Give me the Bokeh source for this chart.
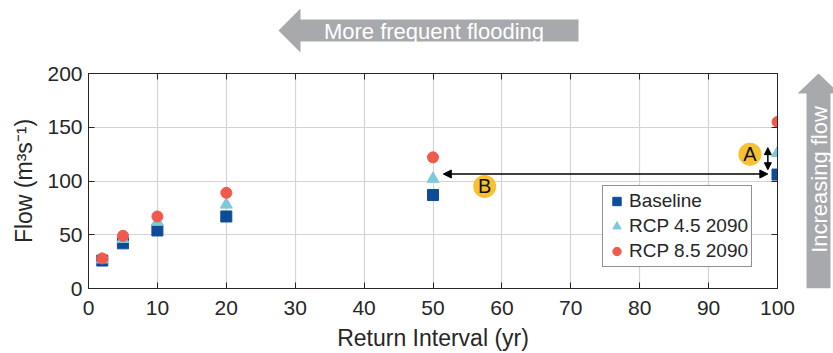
import math
from bokeh.plotting import figure
from bokeh.layouts import column, row
from bokeh.models import (LinearAxis, Range1d, Legend, LegendItem, Arrow, NormalHead,
                          FixedTicker)
from bokeh.embed import file_html
from bokeh.resources import INLINE
from bokeh.core.properties import value

# ---- data ----
return_interval = [2, 5, 10, 20, 50, 100]
baseline = [26, 42, 54, 67, 87, 106]
rcp45 = [27, 46, 62, 78, 102, 126]
rcp85 = [28, 49, 67, 89, 122, 155]
series_names = ["Baseline", "RCP 4.5 2090", "RCP 8.5 2090"]
x_ticks = [0, 10, 20, 30, 40, 50, 60, 70, 80, 90, 100]
y_ticks = [0, 50, 100, 150, 200]
marker_labels = ["A", "B"]
marker_label_x = [96.0, 57.5]
marker_label_y = [125.0, 95.0]
top_arrow_text = ["More frequent flooding"]
right_arrow_text = ["Increasing flow"]

FONT = "Liberation Sans"
C_BASE = "#0F4C97"
C_45 = "#7DC8DD"
C_85 = "#F0594B"
C_YEL = "#F8C12F"
C_ARROW = "#A7A9AC"
C_AX = "#262626"

TOP_H = 53
MAIN_W, MAIN_H = 797, 300
RIGHT_W = 833 - MAIN_W
FRAME_TOP, FRAME_BOTTOM = 73, 288


def blank_fig(w, h, xr, yr):
    f = figure(width=w, height=h, output_backend="svg", toolbar_location=None,
               title=None, x_range=Range1d(*xr), y_range=Range1d(*yr),
               x_axis_type=None, y_axis_type=None, min_border=0,
               min_border_left=0, min_border_right=0, min_border_top=0,
               min_border_bottom=0,
               outline_line_color=None, background_fill_color="white",
               border_fill_color="white")
    f.grid.visible = False
    return f


# ---- top arrow figure (pixel coordinates of the page) ----
top = blank_fig(833, TOP_H, (0, 833), (TOP_H, 0))
top.patch([278, 300, 300, 578, 578, 300, 300], [30, 8, 19, 19, 41, 41, 52],
          fill_color=C_ARROW, line_color=None)
top.text([433.5], [30.5], text=top_arrow_text, text_font=value(FONT),
         text_font_size="22px", text_color="white", text_align="center",
         text_baseline="middle")

# ---- right arrow figure (its frame is aligned with the main frame) ----
right = blank_fig(RIGHT_W, MAIN_H, (MAIN_W, 833), (FRAME_BOTTOM, FRAME_TOP))
right.patch([818, 839, 830, 830, 806, 806, 797], [73, 93, 93, 288, 288, 93, 93],
            fill_color=C_ARROW, line_color=None)
right.text([818.5], [179], text=right_arrow_text, text_font=value(FONT),
           text_font_size="22px", text_color="white", text_align="center",
           text_baseline="middle", angle=math.pi / 2)

# ---- main chart ----
p = figure(width=MAIN_W, height=MAIN_H, output_backend="svg", toolbar_location=None,
           title=None, x_range=Range1d(0, 100), y_range=Range1d(0, 200),
           min_border_left=88, min_border_right=MAIN_W - 777,
           min_border_top=FRAME_TOP - TOP_H,
           min_border_bottom=MAIN_H - (FRAME_BOTTOM - TOP_H),
           background_fill_color="white", border_fill_color="white",
           outline_line_color=None)

for ax in (p.xaxis[0], p.yaxis[0]):
    ax.axis_line_color = C_AX
    ax.major_tick_line_color = C_AX
    ax.major_tick_in = 6
    ax.major_tick_out = 0
    ax.minor_tick_line_color = None
    ax.major_label_text_font = FONT
    ax.major_label_text_font_size = "21px"
    ax.major_label_text_color = C_AX
    ax.axis_label_text_font = FONT
    ax.axis_label_text_font_size = "23px"
    ax.axis_label_text_font_style = "normal"
    ax.axis_label_text_color = C_AX
p.xaxis[0].ticker = FixedTicker(ticks=x_ticks)
p.yaxis[0].ticker = FixedTicker(ticks=y_ticks)
p.xaxis[0].axis_label = "Return Interval (yr)"
p.yaxis[0].axis_label = "Flow (m³s⁻¹)"
p.xaxis[0].major_label_standoff = 12
p.yaxis[0].major_label_standoff = 6
p.xaxis[0].axis_label_standoff = 7
p.yaxis[0].axis_label_standoff = 7

for loc, ticks in (("above", x_ticks), ("right", y_ticks)):
    ax = LinearAxis(ticker=FixedTicker(ticks=ticks), axis_line_color=C_AX,
                    major_tick_line_color=C_AX, major_tick_in=6, major_tick_out=0,
                    minor_tick_line_color=None, major_label_text_font_size="8px",
                    major_label_text_color=None, major_label_standoff=0)
    p.add_layout(ax, loc)

p.xgrid.ticker = FixedTicker(ticks=x_ticks)
p.ygrid.ticker = FixedTicker(ticks=y_ticks)
p.xgrid.grid_line_color = "#d4d4d4"
p.ygrid.grid_line_color = "#d4d4d4"
p.xgrid.grid_line_width = 1.2
p.ygrid.grid_line_width = 1.2

r_base = p.scatter(return_interval, baseline, marker="square", size=11,
                   fill_color=C_BASE, line_color=C_BASE)
r_45 = p.scatter(return_interval, rcp45, marker="triangle", size=12,
                 fill_color=C_45, line_color=C_45)
r_85 = p.scatter(return_interval, rcp85, marker="circle", size=11,
                 fill_color=C_85, line_color=C_85)

# arrows A and B
p.add_layout(Arrow(start=NormalHead(size=8, fill_color="black", line_color="black"),
                   end=NormalHead(size=8, fill_color="black", line_color="black"),
                   x_start=51.5, y_start=106.5, x_end=98.6, y_end=106.5,
                   line_width=1.5, line_color="black"))
p.add_layout(Arrow(start=NormalHead(size=7, fill_color="black", line_color="black"),
                   end=NormalHead(size=7, fill_color="black", line_color="black"),
                   x_start=98.6, y_start=110.5, x_end=98.6, y_end=131,
                   line_width=1.5, line_color="black"))

p.scatter(marker_label_x, marker_label_y, marker="circle", size=23,
          fill_color=C_YEL, line_color=None)
p.text(marker_label_x, marker_label_y, text=marker_labels, text_font=value(FONT),
       text_font_size="20px", text_align="center", text_baseline="middle",
       text_color="#111111")

legend = Legend(items=[LegendItem(label=series_names[0], renderers=[r_base]),
                       LegendItem(label=series_names[1], renderers=[r_45]),
                       LegendItem(label=series_names[2], renderers=[r_85])],
                location=(602 - 88, 288 - 267), label_text_font=FONT,
                label_text_font_size="19px", label_text_color=C_AX,
                border_line_color="#222222", border_line_width=1.2,
                padding=3, spacing=1, glyph_width=21, glyph_height=24,
                label_height=24, label_standoff=2, background_fill_alpha=1.0,
                margin=0)
p.add_layout(legend, "center")

layout = column(top, row(p, right, spacing=0), spacing=0)
open("out.html", "w").write(file_html(layout, INLINE))
